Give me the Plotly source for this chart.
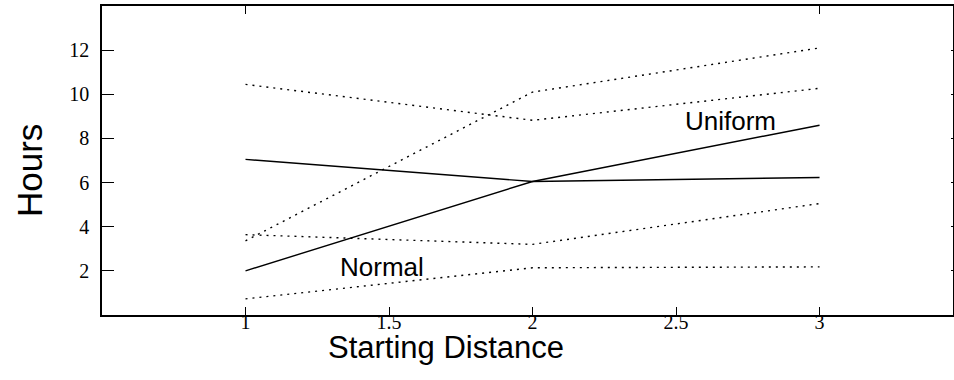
import plotly.graph_objects as go

# Starting distance levels
distance = [1, 2, 3]

# Mean hours (solid) for the two distributions
uniform_mean = [2.0, 6.05, 8.6]
normal_mean = [7.05, 6.05, 6.23]

# Bounds around each mean (dotted)
uniform_upper = [3.36, 10.1, 12.1]
uniform_lower = [3.64, 3.2, 5.05]
normal_upper = [10.45, 8.82, 10.27]
normal_lower = [0.73, 2.14, 2.18]

x_ticks = [1, 1.5, 2, 2.5, 3]
x_tick_text = ["1", "1.5", "2", "2.5", "3"]
y_ticks = [2, 4, 6, 8, 10, 12]
y_tick_text = ["2", "4", "6", "8", "10", "12"]

fig = go.Figure()

dotted = dict(color="black", width=1.4, dash="2px,5px")
solid = dict(color="black", width=1.4)

for ys in [normal_upper, uniform_upper, uniform_lower, normal_lower]:
    fig.add_trace(go.Scatter(x=distance, y=ys, mode="lines", line=dotted,
                             showlegend=False, hoverinfo="skip"))
for ys in [normal_mean, uniform_mean]:
    fig.add_trace(go.Scatter(x=distance, y=ys, mode="lines", line=solid,
                             showlegend=False, hoverinfo="skip"))

# invisible trace to carry the top / right tick axes
fig.add_trace(go.Scatter(x=[1, 3], y=[None, None], xaxis="x2", yaxis="y2",
                         showlegend=False, hoverinfo="skip"))

X_RANGE = [0.5, 3.465]
Y_RANGE = [0, 14]
tick_font = dict(family="Liberation Serif", size=20, color="black")

fig.update_layout(
    width=954, height=380,
    margin=dict(l=102, r=1, t=6, b=65, autoexpand=False),
    plot_bgcolor="white", paper_bgcolor="white",
    xaxis=dict(range=X_RANGE, tickvals=x_ticks, ticktext=x_tick_text,
               ticks="inside", ticklen=8, tickwidth=1, tickcolor="black",
               showline=True, linecolor="black", linewidth=1.5, mirror=True,
               showgrid=False, zeroline=False, tickfont=tick_font,
               ticklabelstandoff=-12, automargin=False),
    yaxis=dict(range=Y_RANGE, tickvals=y_ticks, ticktext=y_tick_text,
               ticks="inside", ticklen=12, tickwidth=1, tickcolor="black",
               showline=True, linecolor="black", linewidth=1.5, mirror=True,
               showgrid=False, zeroline=False, tickfont=tick_font,
               ticklabelstandoff=7, automargin=False),
    xaxis2=dict(range=X_RANGE, overlaying="x", side="top", tickvals=[1, 3],
                ticks="inside", ticklen=8, tickwidth=1, tickcolor="black",
                showticklabels=False, showgrid=False, zeroline=False,
                automargin=False),
    yaxis2=dict(range=Y_RANGE, overlaying="y", side="right", tickvals=y_ticks,
                ticks="inside", ticklen=2, tickwidth=1, tickcolor="black",
                showticklabels=False, showgrid=False, zeroline=False,
                automargin=False),
)

label_font = dict(family="Liberation Sans", size=26, color="black")
fig.add_annotation(x=2.69, y=8.77, text="Uniform", showarrow=False, font=label_font)
fig.add_annotation(x=1.477, y=2.18, text="Normal", showarrow=False, font=label_font)

fig.add_annotation(x=0.404, y=-0.105, xref="paper", yref="paper",
                   xanchor="center", yanchor="middle",
                   text="Starting Distance", showarrow=False,
                   font=dict(family="Liberation Sans", size=31, color="black"))
fig.add_annotation(x=-0.0858, y=0.469, xref="paper", yref="paper",
                   xanchor="center", yanchor="middle",
                   text="Hours", showarrow=False, textangle=-90,
                   font=dict(family="Liberation Sans", size=35, color="black"))

fig.write_html("out.html")
